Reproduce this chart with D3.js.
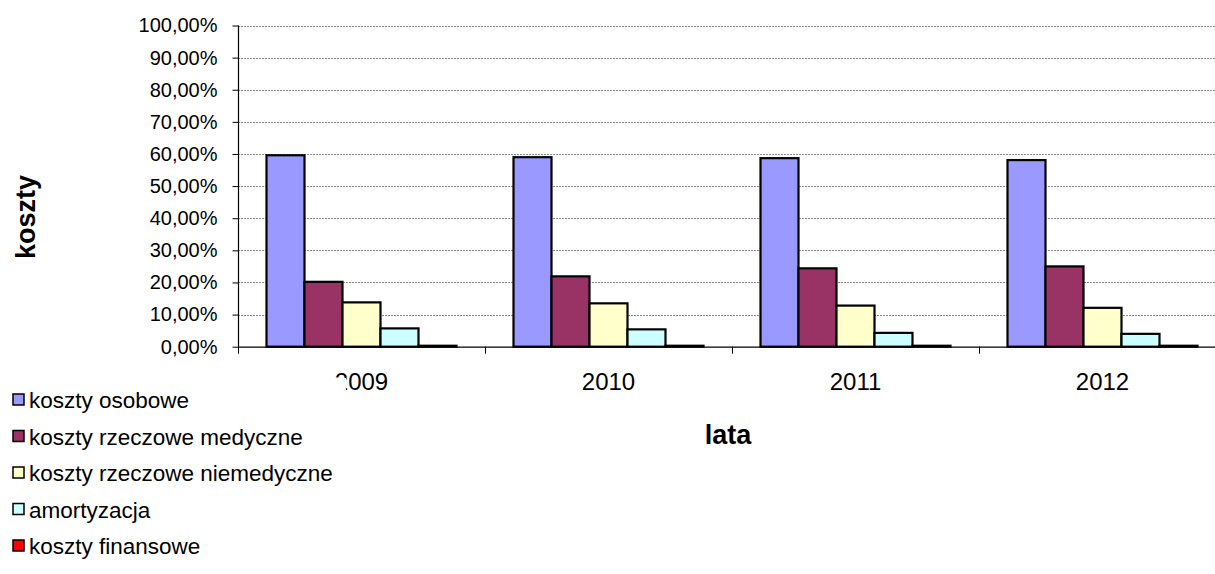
<!DOCTYPE html>
<html><head><meta charset="utf-8">
<script src="https://cdnjs.cloudflare.com/ajax/libs/d3/7.8.5/d3.min.js"></script>
<style>body{margin:0;background:#fff}svg{display:block}text{font-family:Arial,"Liberation Sans",sans-serif}</style>
</head><body><svg id="c" width="1215" height="574"></svg>
<script>
const years = ["2009","2010","2011","2012"];
const seriesNames = ["koszty osobowe","koszty rzeczowe medyczne","koszty rzeczowe niemedyczne","amortyzacja","koszty finansowe"];
const seriesColors = ["#9999FF","#993366","#FFFFCC","#CCFFFF","#FF0000"];
const kosztyOsobowe = [59.6, 59.0, 58.7, 58.1];
const kosztyMedyczne = [20.2, 21.9, 24.4, 25.0];
const kosztyNiemedyczne = [13.8, 13.5, 12.8, 12.1];
const amortyzacja = [5.7, 5.4, 4.3, 4.0];
const kosztyFinansowe = [0.3, 0.3, 0.3, 0.3];
const seriesValues = [kosztyOsobowe, kosztyMedyczne, kosztyNiemedyczne, amortyzacja, kosztyFinansowe];
const yTicks = [0,10,20,30,40,50,60,70,80,90,100];

const svg = d3.select("#c");
const pLeft = 238, pTop = 25.5, pBottom = 346.7, catW = 247;
const x = d3.scaleBand().domain(years).range([pLeft, pLeft + catW*years.length]).padding(0);
const x1 = d3.scaleBand().domain(d3.range(seriesNames.length)).range([28.5, catW-28.5]).padding(0);
const y = d3.scaleLinear().domain([0,100]).range([pBottom, pTop]);
const fmt = v => v.toFixed(2).replace(".", ",") + "%";

// gridlines
svg.append("g").selectAll("line").data(yTicks.filter(t=>t>0)).join("line")
  .attr("x1", pLeft).attr("x2", 1215).attr("y1", d=>Math.round(y(d))+0.5).attr("y2", d=>Math.round(y(d))+0.5)
  .attr("stroke", "#8a8a8a").attr("stroke-width", 1).attr("stroke-dasharray", "2,1");

// y axis
const yAxis = d3.axisLeft(y).tickValues(yTicks).tickFormat(fmt).tickSize(6).tickPadding(15);
const gy = svg.append("g").attr("transform", `translate(${pLeft+0.5},0)`).call(yAxis);
gy.select(".domain").attr("stroke", "#000").attr("stroke-width", 1.2).attr("d", `M0,${pTop}V${pBottom}`);
gy.selectAll(".tick line").attr("stroke", "#000");
gy.selectAll(".tick text").attr("font-size", 20).attr("fill", "#000").attr("font-family", "Arial, 'Liberation Sans', sans-serif");

// bars
const groups = svg.append("g").selectAll("g").data(years).join("g")
  .attr("transform", d => `translate(${x(d)},0)`);
groups.selectAll("rect").data((d,i) => seriesValues.map((s,j) => ({j, v: s[i]}))).join("rect")
  .attr("x", d => x1(d.j)).attr("width", x1.bandwidth())
  .attr("y", d => y(d.v)).attr("height", d => pBottom - y(d.v))
  .attr("fill", d => seriesColors[d.j]).attr("stroke", "#000").attr("stroke-width", 2.2);

// x axis
const xAxis = d3.axisBottom(x).tickSize(0).tickPadding(26);
const gx = svg.append("g").attr("transform", `translate(0,${pBottom})`).call(xAxis);
gx.select(".domain").attr("stroke", "#000").attr("stroke-width", 1.2);
gx.selectAll(".tick text").attr("font-size", 24).attr("fill", "#000").attr("font-family", "Arial, 'Liberation Sans', sans-serif");
// category boundary ticks
svg.append("g").selectAll("line").data(d3.range(years.length + 1)).join("line")
  .attr("x1", i => pLeft + catW*i + 0.5).attr("x2", i => pLeft + catW*i + 0.5)
  .attr("y1", pBottom).attr("y2", pBottom+7).attr("stroke", "#000");

// axis titles
svg.append("text").attr("x", 728).attr("y", 444).attr("text-anchor", "middle")
  .attr("font-size", 27).attr("font-weight", "bold").text("lata");
svg.append("text").attr("transform", "translate(35,217) rotate(-90)").attr("text-anchor", "middle")
  .attr("font-size", 27).attr("font-weight", "bold").text("koszty");

// legend
const lg = svg.append("g");
lg.append("rect").attr("x", 0).attr("y", 378).attr("width", 346).attr("height", 196).attr("fill", "#fff");
const items = lg.selectAll("g").data(seriesNames).join("g")
  .attr("transform", (d,i) => `translate(0,${400 + i*36.5})`);
items.append("rect").attr("x", 13).attr("y", -6).attr("width", 11).attr("height", 11)
  .attr("fill", (d,i) => seriesColors[i]).attr("stroke", "#000").attr("stroke-width", 1.5);
items.append("text").attr("x", 29).attr("y", 8).attr("font-size", 22.5).text(d => d);
</script></body></html>
